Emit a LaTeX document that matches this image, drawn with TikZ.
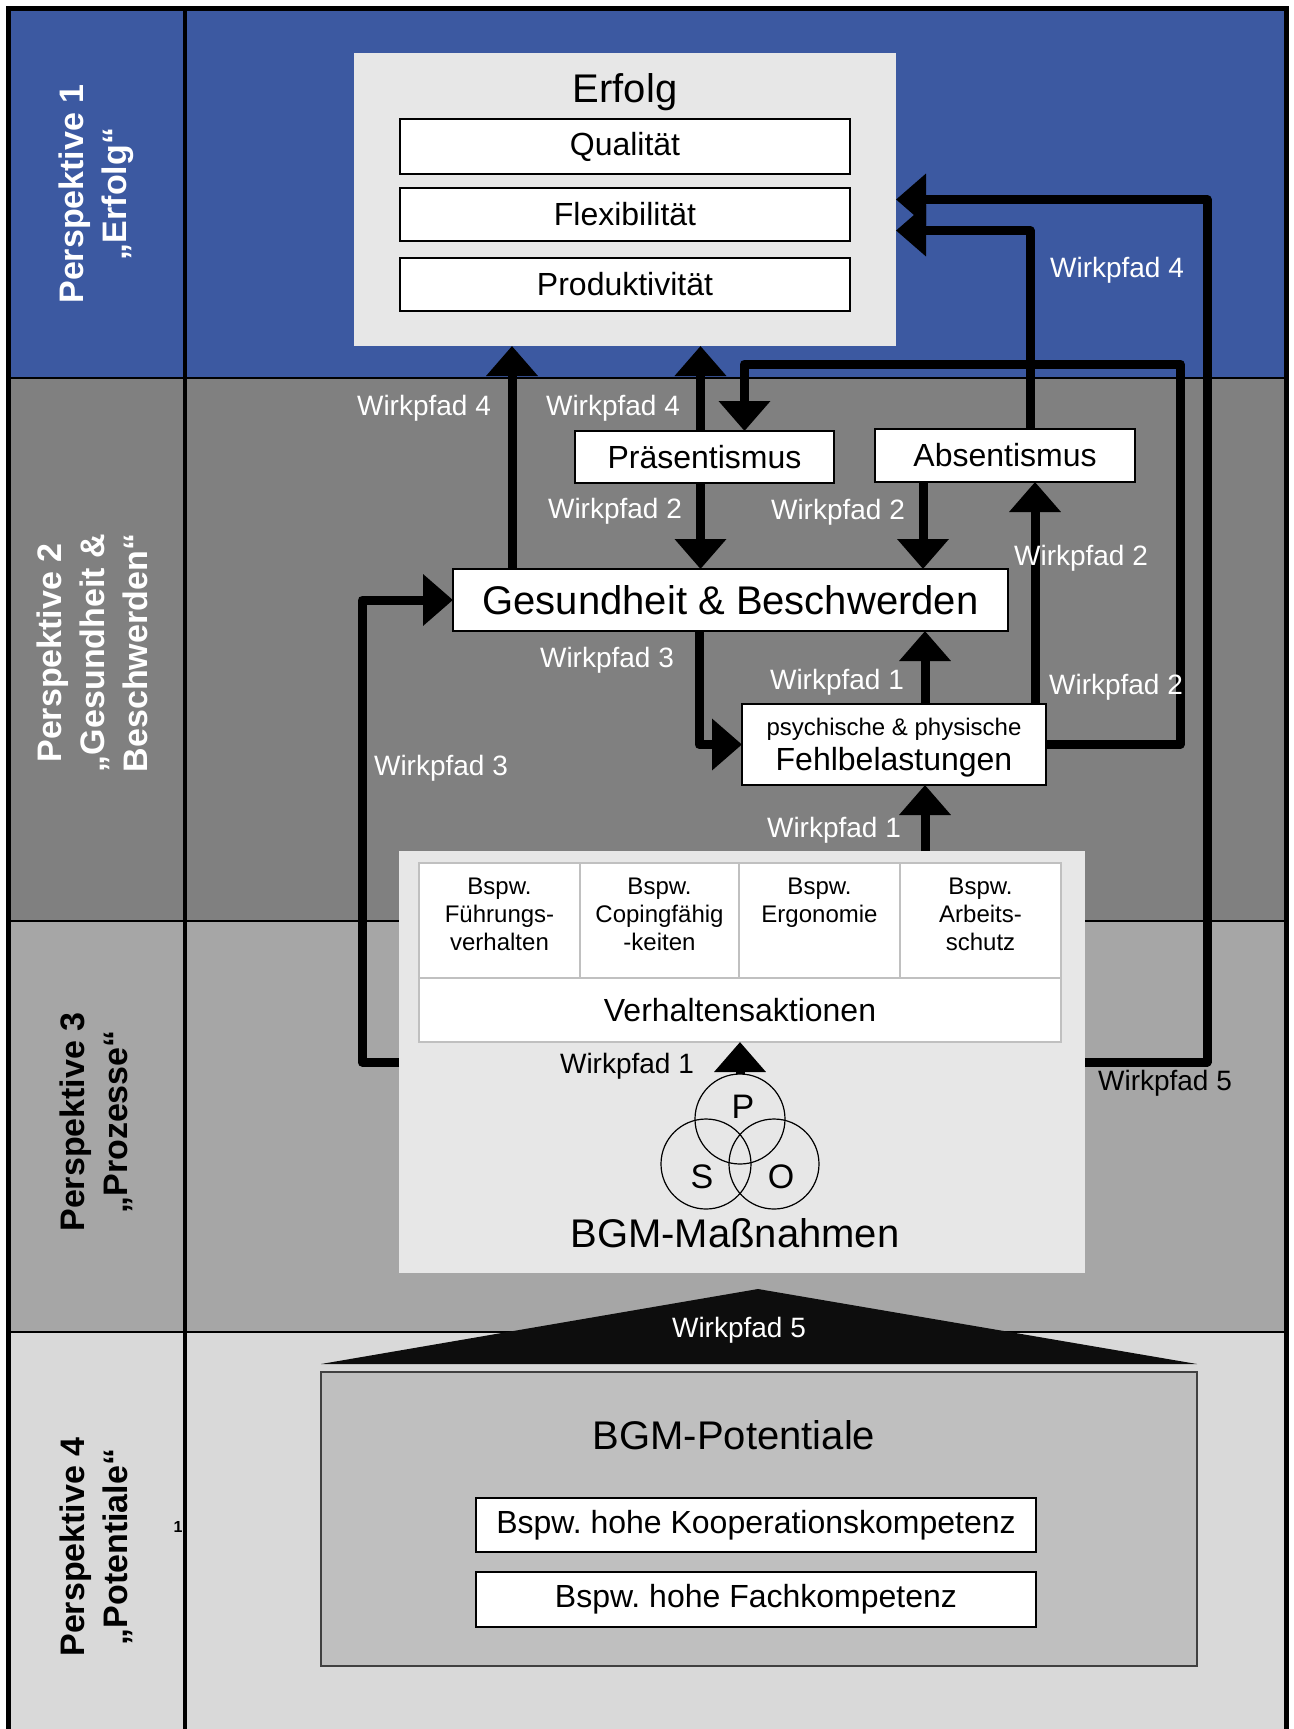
\documentclass[tikz,border=0pt]{standalone}
\usepackage{fontspec}
\setmainfont{Liberation Sans}
\usetikzlibrary{arrows.meta,calc}
\frenchspacing

\definecolor{bandblue}{RGB}{60,89,161}
\definecolor{banddark}{RGB}{128,128,128}
\definecolor{bandmid}{RGB}{166,166,166}
\definecolor{bandlight}{RGB}{217,217,217}
\definecolor{panel}{RGB}{231,231,231}
\definecolor{potential}{RGB}{191,191,191}
\definecolor{gridgray}{RGB}{192,192,192}
\definecolor{rim}{RGB}{64,64,64}

\newcommand{\fsz}[2]{\fontsize{#1}{#2}\selectfont}

\tikzset{
  every node/.style={inner sep=0pt, outer sep=0pt},
  whitebox/.style={draw=black, line width=2pt, fill=white},
  cell/.style={draw=gridgray, line width=2pt, fill=white},
  panelbox/.style={fill=panel},
  flow/.style={line width=9pt, line join=round, -{Triangle[length=30pt,width=50pt]}},
  pathlabel/.style={text=white, font=\fsz{28}{34}},
  darklabel/.style={text=black, font=\fsz{28}{34}},
  perspective/.style={rotate=90, align=center, font=\bfseries\fsz{34}{43}},
  celltext/.style={anchor=north, align=center, font=\fsz{24}{28}},
  ring/.style={circle, draw=black, line width=1.2pt, minimum size=90pt},
  ringletter/.style={font=\fsz{34}{40}},
}

\begin{document}
\begin{tikzpicture}[x=1pt, y=-1pt]
\useasboundingbox (0,0) rectangle (1293,1729);

% horizontal bands of the four perspectives
\fill[bandblue]  (8.5,8.5)  rectangle (1286.5,378);
\fill[banddark]  (8.5,378)  rectangle (1286.5,921);
\fill[bandmid]   (8.5,921)  rectangle (1286.5,1332);
\fill[bandlight] (8.5,1332) rectangle (1286.5,1729);
\foreach \yy in {378,921,1332}
  \draw[line width=2pt] (8.5,\yy) -- (1286.5,\yy);
\draw[line width=4pt] (185,8.5) -- (185,1729);
\draw[line width=5pt] (8.5,1729) -- (8.5,8.5) -- (1286.5,8.5) -- (1286.5,1729);

% perspective titles in the left column
\node[perspective, text=white] (persp1) at (96,194) {Perspektive 1\\„Erfolg“};
\node[perspective, text=white] (persp2) at (92,653) {Perspektive 2\\„Gesundheit \&\\Beschwerden“};
\node[perspective] (persp3) at (96,1122) {Perspektive 3\\„Prozesse“};
\node[perspective] (persp4) at (96,1547) {Perspektive 4\\„Potentiale“};
\node[font=\bfseries\fsz{16}{18}] (footmark) at (178,1527) {1};

% success panel
\node[panelbox, minimum width=542pt, minimum height=293pt] (erfolg) at (625,199.5) {};
\node[font=\fsz{40}{48}] (erfolgtitle) at (625,92) {Erfolg};
\node[whitebox, minimum width=450pt, minimum height=55pt, font=\fsz{32}{38}] (qual) at (625,146.5) {Qualität};
\node[whitebox, minimum width=450pt, minimum height=53pt, font=\fsz{32}{38}] (flex) at (625,214.5) {Flexibilität};
\node[whitebox, minimum width=450pt, minimum height=53pt, font=\fsz{32}{38}] (prod) at (625,284.5) {Produktivität};

% health level
\node[whitebox, minimum width=259pt, minimum height=52pt, font=\fsz{32}{38}] (praes) at (704.5,457) {Präsentismus};
\node[whitebox, minimum width=260pt, minimum height=53pt, font=\fsz{32}{38}] (absent) at (1005,455.5) {Absentismus};
\node[whitebox, minimum width=555pt, minimum height=62pt, font=\fsz{40}{48}] (gesund) at (730.5,600) {Gesundheit \& Beschwerden};
\node[whitebox, minimum width=304pt, minimum height=81pt] (fehl) at (894,744.5) {};
\node[font=\fsz{24}{28}] (fehltop) at (894,729) {psychische \& physische};
\node[font=\fsz{32}{38}] (fehlmain) at (894,762) {Fehlbelastungen};

% measures panel
\node[panelbox, minimum width=686pt, minimum height=422pt] (bgm) at (742,1062) {};
\node[cell, minimum width=161pt, minimum height=115pt] (cell1) at (499.5,920.5) {};
\node[cell, minimum width=159pt, minimum height=115pt] (cell2) at (659.5,920.5) {};
\node[cell, minimum width=161pt, minimum height=115pt] (cell3) at (819.5,920.5) {};
\node[cell, minimum width=161pt, minimum height=115pt] (cell4) at (980.5,920.5) {};
\node[cell, minimum width=642pt, minimum height=64pt, font=\fsz{32}{38}] (verh) at (740,1010) {Verhaltensaktionen};
\node[celltext] (txt1) at (499.5,878) {Bspw.\\Führungs-\\verhalten};
\node[celltext] (txt2) at (659.5,878) {Bspw.\\Copingfähig\\-keiten};
\node[celltext] (txt3) at (819.5,878) {Bspw.\\Ergonomie};
\node[celltext] (txt4) at (980.5,878) {Bspw.\\Arbeits-\\schutz};

\node[ring] (ringP) at (740,1119) {};
\node[ring] (ringS) at (706,1164) {};
\node[ring] (ringO) at (774,1164) {};
\node[ringletter] (letP) at (743,1107) {P};
\node[ringletter] (letS) at (702,1177) {S};
\node[ringletter] (letO) at (781,1177) {O};
\node[font=\fsz{40}{48}] (bgmtitle) at (735,1233) {BGM-Maßnahmen};

% potentials with the roof
\fill[black!95] (758,1289) -- (1197,1364) -- (321,1364) -- cycle;
\node[draw=rim, line width=2.5pt, fill=potential, minimum width=876pt, minimum height=294pt] (pot) at (759,1519) {};
\node[font=\fsz{40}{48}] (pottitle) at (734,1435) {BGM-Potentiale};
\node[whitebox, minimum width=560pt, minimum height=54pt, font=\fsz{32}{38}] (koop) at (756,1525) {Bspw. hohe Kooperationskompetenz};
\node[whitebox, minimum width=560pt, minimum height=55pt, font=\fsz{32}{38}] (fach) at (756,1599.5) {Bspw. hohe Fachkompetenz};

% corner points of the long paths
\coordinate (loopR) at (1180,364);
\coordinate (w5corner) at (1207,1062);
\coordinate (w3corner) at (362,1062);

% effect paths
\draw[flow] ([xshift=59pt]gesund.north west) -- ([xshift=59pt]gesund.north west |- erfolg.south);
\draw[flow] ([xshift=-4pt]praes.north) -- ([xshift=-4pt]praes.north |- erfolg.south);
\draw[flow] ([xshift=-4pt]praes.south) -- ([xshift=-4pt]praes.south |- gesund.north);
\draw[flow] ([xshift=-82pt]absent.south) -- ([xshift=-82pt]absent.south |- gesund.north);
\draw[flow] ([xshift=-11pt]fehl.north east) -- ([xshift=-11pt]fehl.north east |- absent.south);
\draw[flow] (fehl.east) -| (loopR) -| ([xshift=40pt]praes.north);
\draw[flow] ([xshift=25pt]absent.north) |- ([yshift=-31pt]erfolg.east);
\draw[flow] (bgm.east) -- (w5corner) |- (erfolg.east);
\draw[flow] (bgm.west) -- (w3corner) |- (gesund.west);
\draw[flow] ([xshift=-31.5pt]gesund.south) |- (fehl.west);
\draw[flow] ([xshift=31pt]fehl.north) -- ([xshift=31pt]fehl.north |- gesund.south);
\draw[flow] ([xshift=31pt]fehl.south |- bgm.north) -- ([xshift=31pt]fehl.south);
\draw[flow] (ringP.north) -- (ringP.north |- verh.south);

% path labels
\node[pathlabel] (lbl4a) at (424,408) {Wirkpfad 4};
\node[pathlabel] (lbl4b) at (613,408) {Wirkpfad 4};
\node[pathlabel] (lbl4c) at (1117,270) {Wirkpfad 4};
\node[pathlabel] (lbl2a) at (615,511) {Wirkpfad 2};
\node[pathlabel] (lbl2b) at (838,512) {Wirkpfad 2};
\node[pathlabel] (lbl2c) at (1081,558) {Wirkpfad 2};
\node[pathlabel] (lbl2d) at (1116,687) {Wirkpfad 2};
\node[pathlabel] (lbl3a) at (607,660) {Wirkpfad 3};
\node[pathlabel] (lbl3b) at (441,768) {Wirkpfad 3};
\node[pathlabel] (lbl1a) at (837,682) {Wirkpfad 1};
\node[pathlabel] (lbl1b) at (834,830) {Wirkpfad 1};
\node[darklabel] (lbl1c) at (627,1066) {Wirkpfad 1};
\node[darklabel] (lbl5a) at (1165,1083) {Wirkpfad 5};
\node[pathlabel] (lbl5b) at (739,1330) {Wirkpfad 5};
\end{tikzpicture}
\end{document}
